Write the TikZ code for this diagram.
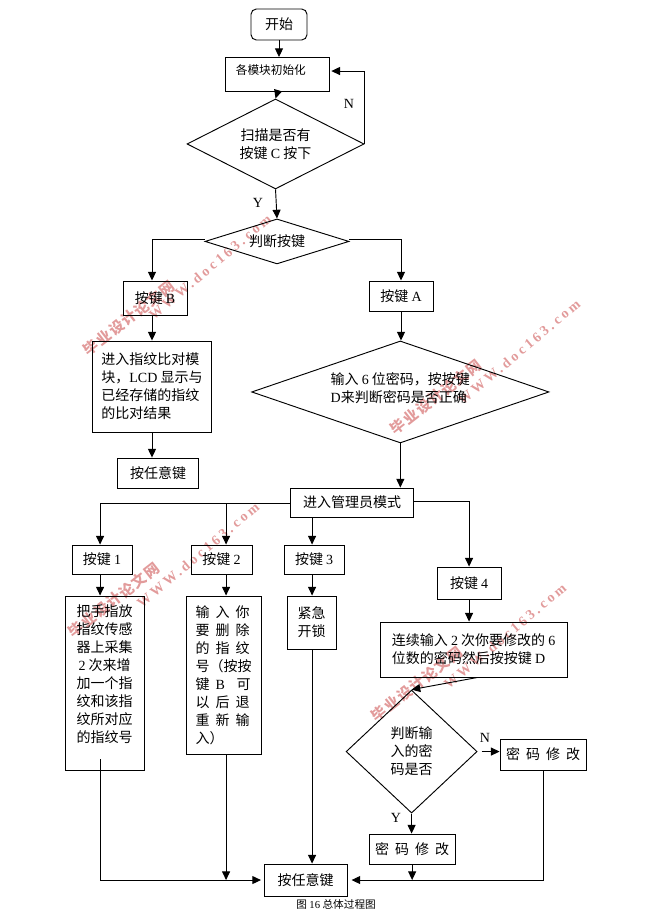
\documentclass[tikz,border=0pt]{standalone}
\usepackage{fontspec}
\setmainfont{Liberation Serif}
\newfontfamily\cjk{Noto Sans CJK SC}
\newfontfamily\marklat[LetterSpace=22]{Liberation Serif}
\newfontfamily\markcjk[LetterSpace=9]{Noto Sans CJK SC}
\usetikzlibrary{shapes.geometric,arrows.meta}
\newcommand{\lat}[1]{{\rmfamily #1}}
\newcommand{\gp}{\hspace{4.5pt}}
\definecolor{markpink}{RGB}{226,155,155}
\tikzstyle{block} = [rectangle, draw, align=center, inner sep=0pt, font=\cjk\fontsize{10.5}{13.5}\selectfont]
\tikzstyle{decision} = [diamond, draw, align=center, inner sep=0pt, font=\cjk\fontsize{10.5}{13.5}\selectfont]
\tikzstyle{line} = [draw, -{Triangle[length=6.5pt,width=6pt]}]
\tikzstyle{tag} = [font=\rmfamily\fontsize{10.5}{12}\selectfont]
\tikzstyle{markone} = [rotate=38, text=markpink, font=\markcjk\bfseries\fontsize{11}{12}\selectfont]
\tikzstyle{marktwo} = [rotate=40, text=markpink, font=\marklat\bfseries\fontsize{10.5}{12}\selectfont]

\begin{document}
\begin{tikzpicture}[x=0.75pt, y=-0.75pt, line width=0.7pt, node distance=40pt]
	\useasboundingbox (0,0) rectangle (665,917);
	% Watermark
	\node [markone] (wmonea) at (129,318) {毕业设计论文网};
	\node [marktwo] (wmoneb) at (210,267) {WWW.doc163.com};
	\node [markone] (wmtwoa) at (436,397) {毕业设计论文网};
	\node [marktwo] (wmtwob) at (519,352) {WWW.doc163.com};
	\node [markone] (wmthreea) at (114,600) {毕业设计论文网};
	\node [marktwo] (wmthreeb) at (198,555) {WWW.doc163.com};
	\node [markone] (wmfoura) at (417,684) {毕业设计论文网};
	\node [marktwo] (wmfourb) at (505,636) {WWW.doc163.com};
	% Top part
	\node [block, rounded corners=4pt, minimum width=42pt, minimum height=23.25pt] (start) at (279,24.5) {开始};
	\node [block, below of=start, node distance=37.5pt, xshift=-1.1pt, minimum width=78pt, minimum height=25.5pt] (init) {\raisebox{0pt}[0pt][0pt]{\fontsize{8.75}{10}\selectfont 各模块初始化\hspace{10pt}}};
	\node [decision, shape aspect=1.97, below of=init, node distance=52.1pt, xshift=-1.5pt, minimum width=132.75pt, minimum height=67.5pt] (scan) {扫描是否有\\按键 \lat{C} 按下};
	\node [decision, shape aspect=3.2, below of=scan, node distance=73.1pt, xshift=1.1pt, minimum width=108pt, minimum height=33.75pt] (judge) {判断按键};
	% Left branch
	\node [block, below of=judge, node distance=42.4pt, xshift=-91.5pt, minimum width=48pt, minimum height=25.5pt] (keyb) {按键 \lat{B}};
	\node [block, below of=keyb, node distance=66.4pt, xshift=-2.25pt, minimum width=89.25pt, minimum height=68.25pt, align=left] (match) {进入指纹比对模\\块，\lat{LCD} 显示与\\已经存储的指纹\\的比对结果};
	\node [block, below of=match, node distance=64.9pt, xshift=4.5pt, minimum width=60.75pt, minimum height=22.5pt] (anyleft) {按任意键};
	% Right branch
	\node [block, below of=judge, node distance=40.9pt, xshift=93pt, minimum width=48pt, minimum height=22.5pt] (keya) {按键 \lat{A}};
	\node [decision, shape aspect=2.9, below of=keya, node distance=72pt, xshift=-0.5pt, minimum width=223pt, minimum height=76.5pt, align=left] (pwd) {输入 \lat{6} 位密码，按按键\\\lat{D}来判断密码是否正确\\[-7.5pt]~};
	\node [block, below of=pwd, node distance=82.9pt, xshift=-36.2pt, minimum width=92.25pt, minimum height=21.75pt] (admin) {进入管理员模式};
	% Four keys
	\node [block, below of=admin, node distance=42.75pt, xshift=-187.5pt, minimum width=45pt, minimum height=21.75pt] (keyone) {按键 \lat{1}};
	\node [block, below of=admin, node distance=42.75pt, xshift=-97.9pt, minimum width=45.75pt, minimum height=21.75pt] (keytwo) {按键 \lat{2}};
	\node [block, below of=admin, node distance=42.75pt, xshift=-28.5pt, minimum width=45pt, minimum height=21.75pt] (keythree) {按键 \lat{3}};
	\node [block, below of=admin, node distance=60.4pt, xshift=87.75pt, minimum width=48pt, minimum height=24pt] (keyfour) {按键 \lat{4}};
	\node [block, below of=keyone, node distance=92.6pt, xshift=1.9pt, minimum width=59.25pt, minimum height=130.5pt] (addfp) {把手指放\\指纹传感\\器上采集\\\lat{2} 次来增\\加一个指\\纹和该指\\纹所对应\\的指纹号\\~};
	\node [block, below of=keytwo, node distance=86.6pt, xshift=1.5pt, minimum width=56.25pt, minimum height=118.5pt, align=left] (delfp) {输\gp 入\gp 你\\要\gp 删\gp 除\\的\gp 指\gp 纹\\号（按按\\键\gp \lat{B}\gp\hspace{2pt} 可\\以\gp 后\gp 退\\重\gp 新\gp 输\\入）};
	\node [block, below of=keythree, node distance=47.25pt, xshift=-1.9pt, minimum width=36.75pt, minimum height=39.75pt] (unlock) {紧急\\开锁};
	\node [block, below of=keyfour, node distance=49.9pt, xshift=3.4pt, minimum width=140.25pt, minimum height=41.25pt, align=left] (newpwd) {连续输入 \lat{2} 次你要修改的 \lat{6}\\位数的密码然后按按键 \lat{D}};
	\node [decision, below of=newpwd, node distance=76.5pt, xshift=-46.5pt, minimum width=98.25pt, minimum height=92.25pt] (check) {判断输\\入的密\\码是否};
	\node [block, right of=check, node distance=98.6pt, yshift=-2.25pt, minimum width=64.5pt, minimum height=23.25pt] (modright) {密\gp 码\gp 修\gp 改};
	\node [block, below of=check, node distance=73.1pt, xshift=0.4pt, minimum width=64.5pt, minimum height=22.5pt] (modbelow) {密\gp 码\gp 修\gp 改};
	\node [block, below of=modbelow, node distance=23.25pt, xshift=-79.9pt, minimum width=62.25pt, minimum height=24pt] (anykey) {按任意键};
	\node [below of=anykey, node distance=18pt, xshift=22.9pt, font=\cjk\fontsize{8}{10}\selectfont] (caption) {图 \lat{16} 总体过程图};
	% Labels
	\node [tag] (tagn) at (349,104) {N};
	\node [tag] (tagy) at (258,203) {Y};
	\node [tag] (tagnb) at (485,738) {N};
	\node [tag] (tagyb) at (396,818) {Y};
	% Where the lines run off centre
	\coordinate (lineone) at ([xshift=-1.5pt]keyone.south);
	\coordinate (linetwo) at ([xshift=3.4pt]keytwo.south);
	\coordinate (linethree) at ([xshift=-1.5pt]keythree.south);
	\coordinate (lineb) at ([xshift=-2.25pt]keyb.south);
	\coordinate (addout) at ([xshift=-3.4pt,yshift=8.25pt]addfp.south);
	\coordinate (delout) at ([xshift=1.9pt]delfp.south);
	\coordinate (anyin) at ([xshift=-2pt]anykey.west);
	\coordinate (anyinr) at ([xshift=3pt]anykey.east);
	\coordinate (initin) at ([xshift=1pt,yshift=2.6pt]init.east);
	\coordinate (judgel) at ([yshift=1.5pt]judge.west);
	\coordinate (judger) at ([yshift=1.5pt]judge.east);
	\coordinate (adminl) at ([yshift=-1pt]admin.west);
	\coordinate (adminr) at ([yshift=1pt]admin.east);
	\coordinate (checkout) at ([xshift=3pt]check.east);
	\coordinate (newout) at ([xshift=2.6pt]newpwd.south);
	% Arrows
	\path [line] (start) -- (start |- init.north);
	\path [line] (init.south) -- (scan.north);
	\path [line] (scan.east) |- (initin);
	\path [line] (scan.south) -- (judge.north);
	\path [line] (judgel) -| (lineb |- keyb.north);
	\path [line] (judger) -| (keya.north);
	\path [line] (lineb) -- (lineb |- match.north);
	\path [line] (lineb |- match.south) -- (lineb |- anyleft.north);
	\path [line] (keya.south) -- (keya.south |- pwd.north);
	\path [line] (pwd.south) -- (pwd.south |- admin.north);
	\path [line] (adminl) -| (lineone |- keyone.north);
	\path [line] (adminl) -| (linetwo |- keytwo.north);
	\path [line] (linethree |- admin.south) -- (linethree |- keythree.north);
	\path [line] (adminr) -| (keyfour.north);
	\path [line] (lineone) -- (lineone |- addfp.north);
	\path [line] (linetwo) -- (linetwo |- delfp.north);
	\path [line] (linethree) -- (linethree |- unlock.north);
	\path [line] (keyfour.south) -- (keyfour.south |- newpwd.north);
	\path [line] (addout) |- (anyin);
	\path [line] (delout) -- (delout |- anykey.west);
	\path [line] (linethree |- unlock.south) -- (linethree |- anykey.north);
	\path [line] (newout) -- (check.north);
	\path [line] (checkout) -- (modright.west |- checkout);
	\path [line] (check.south) -- (check.south |- modbelow.north);
	\path [line] (modbelow.south) -- (modbelow.south |- anykey.west);
	\path [line] (modright.south) |- (anyinr);
\end{tikzpicture}
\end{document}
